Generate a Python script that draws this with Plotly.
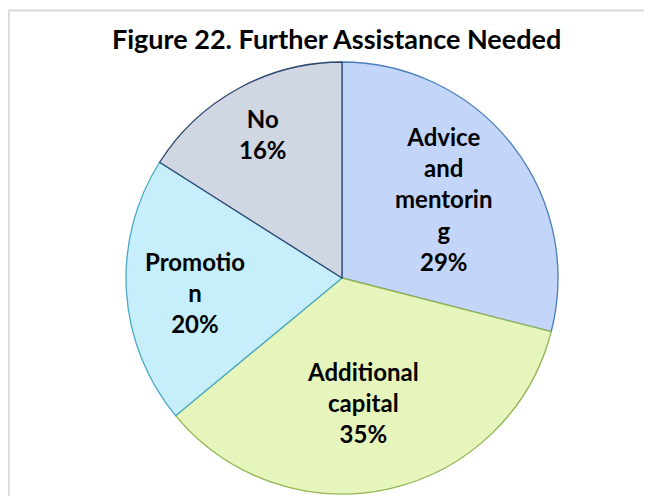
import math
import plotly.graph_objects as go

categories = ["Advice and mentoring", "Additional capital", "Promotion", "No"]
label_text = ["Advice<br>and<br>mentorin<br>g", "Additional<br>capital", "Promotio<br>n", "No"]
values = [29, 35, 20, 16]

fill_colors = ["#c3d5f8", "#e5f5bb", "#c6eefb", "#d1d6e3"]
line_colors = ["#4a7ebb", "#92b653", "#4aa8c6", "#2b4670"]
label_radius_frac = [0.60, 0.585, 0.685, 0.76]
label_angle_shift_deg = [0, 3, -2, 0]

# page has an 8px body margin; figure sized to fit the window
OFF = 8
W, H = 652 - OFF, 496 - OFF
cx, cy, r = 342 - OFF, 278 - OFF, 216

fig = go.Figure(go.Pie(
    labels=categories,
    values=values,
    textinfo="none",
    sort=False,
    direction="clockwise",
    rotation=0,
    marker=dict(colors=fill_colors, line=dict(color=line_colors, width=1.3)),
    domain=dict(x=[(cx - r) / W, (cx + r) / W], y=[(H - cy - r) / H, (H - cy + r) / H]),
    showlegend=False,
    hoverinfo="label+percent",
))

total = sum(values)
cum = 0
for txt, v, f, sh in zip(label_text, values, label_radius_frac, label_angle_shift_deg):
    mid = (cum + v / 2) / total * 2 * math.pi + math.radians(sh)
    cum += v
    px = cx + f * r * math.sin(mid)
    py = cy - f * r * math.cos(mid)
    fig.add_annotation(text=f"<b>{txt}<br>{round(v / total * 100)}%</b>",
                       xref="paper", yref="paper", x=px / W, y=(H - py) / H,
                       xanchor="center", yanchor="middle", showarrow=False, align="center",
                       font=dict(family="Lato", size=24, color="black"))

fig.add_shape(type="rect", xref="paper", yref="paper",
              x0=1 / W, x1=1.2, y0=-0.2, y1=(H - 2.5) / H,
              line=dict(color="#d9d9d9", width=1.8), fillcolor="rgba(0,0,0,0)", layer="below")

fig.add_annotation(text="<b>Figure 22. Further Assistance Needed</b>", xref="paper", yref="paper",
                   x=(336.5 - OFF) / W, y=(H - (38.5 - OFF)) / H, xanchor="center", yanchor="middle",
                   showarrow=False, font=dict(family="Lato", size=27, color="black"))

fig.update_layout(width=W, height=H, margin=dict(l=0, r=0, t=0, b=0),
                  paper_bgcolor="white", plot_bgcolor="white")

fig.write_html("out.html", config={"displayModeBar": False})
